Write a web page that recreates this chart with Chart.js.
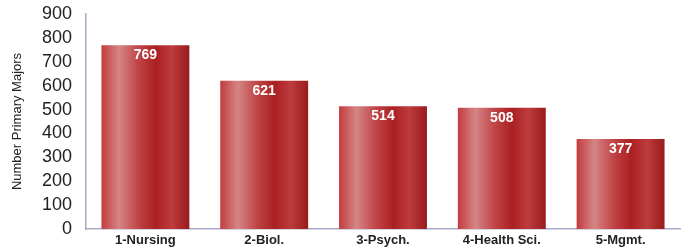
<!DOCTYPE html>
<html>
<head>
<meta charset="utf-8">
<script src="https://cdn.jsdelivr.net/npm/chart.js@4/dist/chart.umd.min.js"></script>
<style>
  body { margin: 0; background: #fff; }
</style>
</head>
<body>
<canvas id="myChart" width="684" height="250"></canvas>
<script>
var categories = ["1-Nursing", "2-Biol.", "3-Psych.", "4-Health Sci.", "5-Mgmt."];
var majors = [769, 621, 514, 508, 377];
var yTicks = [0, 100, 200, 300, 400, 500, 600, 700, 800, 900];

var barFrac = 0.74;
var font = "'Liberation Sans', Arial, sans-serif";

// horizontal "cylinder" shading, one gradient per bar
function barFill(context) {
  var chart = context.chart;
  var x = chart.scales && chart.scales.x;
  if (!x || !chart.chartArea || context.dataIndex === undefined) return "#b22a2a";
  var slot = (x.right - x.left) / categories.length;
  var cx = x.getPixelForValue(context.dataIndex);
  var w = slot * barFrac;
  var g = chart.ctx.createLinearGradient(cx - w / 2, 0, cx + w / 2, 0);
  g.addColorStop(0, "#c23c3e");
  g.addColorStop(0.2, "#d58586");
  g.addColorStop(0.42, "#c04446");
  g.addColorStop(0.62, "#ab2022");
  g.addColorStop(0.8, "#bd3c3e");
  g.addColorStop(1, "#9a1b1d");
  return g;
}

var valueLabels = {
  id: "valueLabels",
  afterDatasetsDraw: function (chart) {
    var c = chart.ctx;
    var meta = chart.getDatasetMeta(0);
    c.save();
    c.fillStyle = "#ffffff";
    c.font = "bold 14px " + font;
    c.textAlign = "center";
    c.textBaseline = "middle";
    meta.data.forEach(function (bar, i) {
      c.fillText(String(majors[i]), bar.x, bar.y + 10);
    });
    c.restore();
  }
};

var ctx = document.getElementById("myChart");
var myChart = new Chart(ctx, {
  type: "bar",
  data: {
    labels: categories,
    datasets: [{
      label: "Number Primary Majors",
      data: majors,
      backgroundColor: barFill,
      borderWidth: 0,
      categoryPercentage: barFrac,
      barPercentage: 1
    }]
  },
  options: {
    responsive: false,
    animation: false,
    layout: { padding: { left: 10, right: 4, top: 14, bottom: 0 } },
    plugins: {
      legend: { display: false },
      tooltip: { enabled: false }
    },
    scales: {
      x: {
        grid: { display: false, drawTicks: false },
        border: { display: true, color: "#a9a9c8", width: 1.5 },
        ticks: {
          color: "#222",
          padding: 4,
          font: { family: font, size: 13, weight: "bold" }
        },
        afterFit: function (scale) {
          scale.height = 21;
          scale.paddingLeft = 0;
          scale.paddingRight = 0;
        }
      },
      y: {
        min: 0,
        max: 900,
        afterBuildTicks: function (scale) {
          scale.ticks = yTicks.map(function (v) { return { value: v }; });
        },
        grid: { display: false, drawTicks: false },
        border: { display: true, color: "#a9a9c8", width: 1.5 },
        ticks: {
          color: "#222",
          padding: 14,
          autoSkip: false,
          font: { family: font, size: 18 }
        },
        title: {
          display: true,
          text: "Number Primary Majors",
          color: "#222",
          padding: 0,
          font: { family: font, size: 13 }
        },
        afterFit: function (scale) {
          scale.width = 76;
          scale.paddingTop = 0;
          scale.paddingBottom = 0;
        }
      }
    }
  },
  plugins: [valueLabels]
});
</script>
</body>
</html>
